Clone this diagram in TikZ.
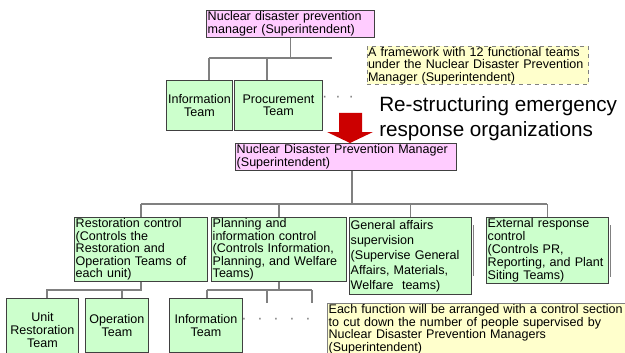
\documentclass[tikz,border=0pt]{standalone}
\usepackage{fontspec}
\setmainfont{Liberation Sans}
\usetikzlibrary{positioning}
\hyphenpenalty=10000

\definecolor{pinkfill}{HTML}{FFCCFF}
\definecolor{greenfill}{HTML}{CCFFCC}
\definecolor{notefill}{HTML}{FFFFCC}
\definecolor{boxline}{HTML}{404040}
\definecolor{linegray}{HTML}{808080}
\definecolor{arrowred}{HTML}{CC0000}

\begin{document}
\begin{tikzpicture}[x=0.75pt,y=-0.75pt]
\tikzstyle{every node}+=[inner sep=1pt]
\tikzstyle{pinkbox}=[draw=boxline, line width=0.6pt, fill=pinkfill, anchor=north west, align=left, font=\fontsize{9.4}{9.4}\selectfont]
\tikzstyle{greenbox}=[draw=boxline, line width=0.6pt, fill=greenfill, anchor=north west, align=left, font=\fontsize{9.4}{9.4}\selectfont]
\tikzstyle{notebox}=[fill=notefill, anchor=north west, align=left, font=\fontsize{9.4}{9.4}\selectfont]
\tikzstyle{conn}=[draw=linegray, line width=1.1pt]
\tikzstyle{dots}=[text=linegray, font=\fontsize{12}{12}\selectfont]
\useasboundingbox (0,0) rectangle (625,353);
\clip (0,0) rectangle (625,353);
% old organisation
\node[pinkbox, text width=124pt, minimum height=18.75pt] (mgrA) at (206,10) {Nuclear disaster prevention\\manager (Superintendent)};
\node[notebox, draw=linegray, dashed, line width=0.5pt, text width=165pt, inner sep=0.5pt, minimum height=27.75pt] (noteA) at (367,46) {A framework with 12 functional teams\\under the Nuclear Disaster Prevention\\Manager (Superintendent)};
\node[greenbox, align=center, text width=47.5pt, minimum height=37.5pt] (infoA) at (166,80) {Information\\Team};
\node[greenbox, align=center, text width=64pt, minimum height=37.5pt] (procA) at (234,80) {Procurement\\Team};
\node[dots] (dotsA) at (338,99) {·\hspace{6pt}·\hspace{6pt}·};
\coordinate (jA1) at (209,58);
\coordinate (jA2) at (267,58);
\coordinate (jA3) at (332,58);
\draw[conn] (mgrA.south) -- (mgrA.south |- jA1);
\draw[conn] (jA1) -- (jA3);
\draw[conn] (jA1) -- (jA1 |- infoA.north);
\draw[conn] (jA2) -- (jA2 |- procA.north);
% title and arrow
\node[anchor=north west, inner sep=0pt, align=left, font=\fontsize{15.5}{18.75}\selectfont] (title) at (379,96) {Re-structuring emergency\\response organizations};
\fill[arrowred] (339,113) -- (362,113) -- (362,132) -- (373,132) -- (350,143) -- (327,132) -- (339,132) -- cycle;
% new organisation
\node[pinkbox, text width=163.75pt, minimum height=19.5pt] (mgrB) at (235,143) {Nuclear Disaster Prevention Manager\\(Superintendent)};
\node[greenbox, text width=97.75pt, minimum height=48pt] (restB) at (74,217) {Restoration control\\(Controls the\\Restoration and\\Operation Teams of\\each unit)};
\node[greenbox, text width=99.25pt, minimum height=48pt] (planB) at (211,217) {Planning and\\information control\\(Controls Information,\\Planning, and Welfare\\Teams)};
\node[greenbox, text width=89.5pt, minimum height=57.75pt, font=\fontsize{9.4}{11.3}\selectfont] (genB) at (349,217) {General affairs\\supervision\\(Supervise General\\Affairs, Materials,\\Welfare~ teams)};
\node[greenbox, text width=89.5pt, minimum height=48pt, font=\fontsize{9.4}{9.75}\selectfont] (extB) at (486,217) {External response\\control\\(Controls PR,\\Reporting, and Plant\\Siting Teams)};
\draw[linegray, line width=0.8pt] ([shift={(1.5pt,-6pt)}]genB.north east) -- ([shift={(1.5pt,14pt)}]genB.south east);
\draw[linegray, line width=0.8pt] ([shift={(1.5pt,-6pt)}]extB.north east) -- ([shift={(1.5pt,5pt)}]extB.south east);
\coordinate (jB) at (352,204);
\draw[conn] (jB |- mgrB.south) -- (jB);
\draw[conn] (restB.north |- jB) -- (extB.north |- jB);
\foreach \n in {restB,planB,genB,extB}
  \draw[conn] (\n.north |- jB) -- (\n.north);
% teams under the control sections
\node[greenbox, align=center, text width=52pt, minimum height=47.25pt, font=\fontsize{9.4}{9.75}\selectfont] (unitC) at (6,298) {Unit\\Restoration\\Team};
\node[greenbox, align=center, text width=45.25pt, minimum height=40.5pt, font=\fontsize{9.4}{9.75}\selectfont] (operC) at (85,298) {Operation\\Team};
\node[greenbox, align=center, text width=52.75pt, minimum height=40.5pt, font=\fontsize{9.4}{9.75}\selectfont] (infoC) at (169,298) {Information\\Team};
\node[dots] (dotsC) at (276,321) {·\hspace{8pt}·\hspace{8pt}·\hspace{8pt}·\hspace{8pt}·};
\node[notebox, draw=linegray, line width=0.5pt, text width=233pt, minimum height=39pt] (noteB) at (327,303) {Each function will be arranged with a control section\\to cut down the number of people supervised by\\Nuclear Disaster Prevention Managers\\(Superintendent)};
\coordinate (jC1) at (47,290);
\coordinate (jC2) at (122,290);
\draw[conn] (restB.south) -- (restB.south |- jC1) -- (jC1) -- (jC1 |- unitC.north);
\draw[conn] (jC2) -- (jC2 |- operC.north);
\coordinate (jD1) at (207,290);
\coordinate (jD2) at (267,290);
\coordinate (jD3) at (312,290);
\draw[conn] (planB.south) -- (planB.south |- jD1);
\draw[conn] (jD1) -- (jD3);
\draw[conn] (jD1) -- (jD1 |- infoC.north);
\draw[conn] (jD2) -- (jD2 |- noteB.north);
\draw[conn] (jD3) -- (jD3 |- noteB.north);
\end{tikzpicture}
\end{document}
